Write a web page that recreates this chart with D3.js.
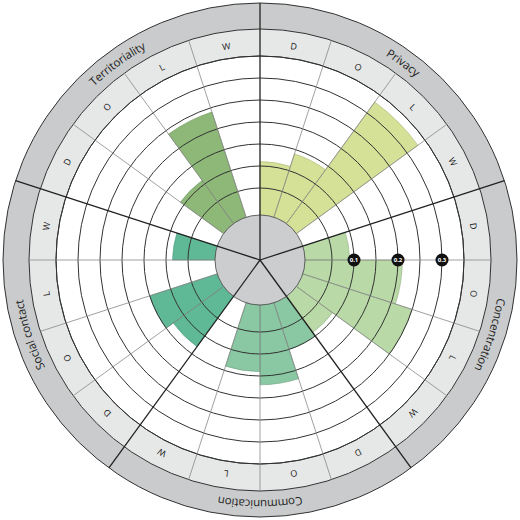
<!DOCTYPE html>
<html><head><meta charset="utf-8">
<script src="https://cdn.jsdelivr.net/npm/d3@7"></script>
<style>body{margin:0;background:#fff}</style></head>
<body><svg id="c" width="520" height="520"></svg>
<script>
const categories = ["Privacy","Concentration","Communication","Social contact","Territoriality"];
const subLabels = ["D","O","L","W"];
const privacy = [0.11,0.14,0.33,0];
const concentration = [0.09,0.21,0.25,0.09];
const communication = [0.10,0.17,0.14,0];
const socialContact = [0.13,0.15,0,0.085];
const territoriality = [0,0.11,0.24,0];
const seriesValues = [privacy,concentration,communication,socialContact,territoriality];
const colors = ["#d5e196","#b9d9a7","#89c8a2","#5fb997","#8db878"];
const tickLabels = ["0.1","0.2","0.3"];
const gridSteps = [0.05,0.1,0.15,0.2,0.25,0.3,0.35];

const svg = d3.select("#c");
const g = svg.append("g").attr("transform","translate(260,260)");
const r = d3.scaleLinear().domain([0,0.35]).range([50,204]);
const sectors = d3.range(20);
const ang = d3.scaleLinear().domain([0,20]).range([0,2*Math.PI]);
const R_plot=204, R_light=231, R_out=257, R_in=45;

g.append("circle").attr("r",R_out).attr("fill","#c9cbcc").attr("stroke","#333").attr("stroke-width",1);
g.append("circle").attr("r",R_light).attr("fill","#e6e8e8").attr("stroke","#333").attr("stroke-width",1);
g.append("circle").attr("r",R_plot).attr("fill","#fff").attr("stroke","#333").attr("stroke-width",1);

const arc = d3.arc();
const bars=[];
seriesValues.forEach((vals,ci)=>vals.forEach((v,si)=>{ if(v>0) bars.push({ci,si,v}); }));
g.selectAll("path.bar").data(bars).join("path").attr("class","bar")
 .attr("d",d=>arc({innerRadius:R_in,outerRadius:r(d.v),startAngle:ang(d.ci*4+d.si),endAngle:ang(d.ci*4+d.si+1)}))
 .attr("fill",d=>colors[d.ci]).attr("stroke",d=>d3.color(colors[d.ci]).darker(0.6)).attr("stroke-width",0.6);

g.selectAll("circle.grid").data(gridSteps).join("circle").attr("class","grid")
 .attr("r",d=>r(d)).attr("fill","none").attr("stroke","#333").attr("stroke-width",1);

const pt=(a,rr)=>[Math.sin(a)*rr,-Math.cos(a)*rr];
sectors.filter(i=>i%4!==0).forEach(i=>{
  const a=ang(i),p1=pt(a,R_in),p2=pt(a,R_light);
  g.append("line").attr("x1",p1[0]).attr("y1",p1[1]).attr("x2",p2[0]).attr("y2",p2[1]).attr("stroke","#888").attr("stroke-width",0.8);
});
g.append("circle").attr("r",R_in).attr("fill","#cbcdcf").attr("stroke","#444").attr("stroke-width",0.8);
d3.range(5).forEach(i=>{
  const a=ang(i*4),p2=pt(a,R_out);
  g.append("line").attr("x1",0).attr("y1",0).attr("x2",p2[0]).attr("y2",p2[1]).attr("stroke","#222").attr("stroke-width",1.3);
});

const circlePath = rr=>`M0,${-rr} A${rr},${rr} 0 1 1 0,${rr} A${rr},${rr} 0 1 1 0,${-rr}`;
const defs=svg.append("defs");
defs.append("path").attr("id","pCat").attr("d",circlePath(245));
defs.append("path").attr("id","pSub").attr("d",circlePath(217));
categories.forEach((c,i)=>{
  g.append("text").attr("font-family","Open Sans, sans-serif").attr("font-size",11.5).attr("fill","#222")
   .attr("dominant-baseline","central").attr("text-anchor","middle")
   .append("textPath").attr("href","#pCat").attr("startOffset",((i*4+2)/20*100)+"%").text(c);
  subLabels.forEach((s,j)=>{
    g.append("text").attr("font-family","Open Sans, sans-serif").attr("font-size",9).attr("fill","#222")
     .attr("dominant-baseline","central").attr("text-anchor","middle")
     .append("textPath").attr("href","#pSub").attr("startOffset",((i*4+j+0.5)/20*100)+"%").text(s);
  });
});

tickLabels.forEach(t=>{
  const x=r(+t);
  g.append("circle").attr("cx",x).attr("cy",0).attr("r",6.5).attr("fill","#111");
  g.append("text").attr("x",x).attr("y",0).attr("dy","0.35em").attr("text-anchor","middle")
   .attr("font-family","Open Sans, sans-serif").attr("font-size",6).attr("font-weight","bold").attr("fill","#fff").text(t);
});
</script></body></html>
